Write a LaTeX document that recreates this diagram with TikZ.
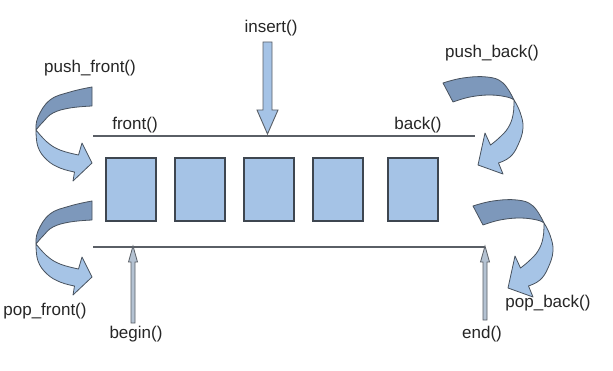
\documentclass[tikz,border=0pt]{standalone}
\usepackage{fontspec}
\setmainfont{Liberation Sans}
\definecolor{boxfill}{HTML}{A5C3E6}
\definecolor{boxline}{HTML}{3E4650}
\definecolor{linegray}{HTML}{5A5F66}
\definecolor{curldark}{HTML}{7D98BB}
\definecolor{curllight}{HTML}{A6C4E6}
\definecolor{curlline}{HTML}{48525E}
\definecolor{thinfill}{HTML}{B4C2D2}
\newcommand\frontcurl{%
  \filldraw[darkpart] plot[smooth,tension=0.7] coordinates {(92,87) (70,92) (50,100) (38,117) (36,130)}
    -- plot[smooth,tension=0.7] coordinates {(36,130) (43,122) (53,113) (70,108) (92,106)} -- cycle;
  \filldraw[lightpart] plot[smooth,tension=0.7] coordinates {(36,130) (38,147) (47,160) (60,168) (74.5,172)}
    -- (73,181) -- (92,163) -- (82,143)
    -- plot[smooth,tension=0.7] coordinates {(78.5,155) (60,150) (47,142) (36,130)} -- cycle;
}
\newcommand\backcurl{%
  \filldraw[darkpart] plot[smooth,tension=0.7] coordinates {(443,83) (463,78) (487,77) (503,83) (514,100)}
    -- plot[smooth,tension=0.7] coordinates {(514,100) (507,97) (490,95) (470,97) (453,102)} -- cycle;
  \filldraw[lightpart] plot[smooth,tension=0.7] coordinates {(514,100) (520,112) (523,128) (518,145) (510,157) (498.5,163)}
    -- (503,174) -- (478,165) -- (485,133)
    -- plot[smooth,tension=0.7] coordinates {(490.5,145) (499,138) (508,128) (513,115) (514,100)} -- cycle;
}
\begin{document}
\begin{tikzpicture}[x=1pt,y=-1pt,
  lbl/.style={font=\fontsize{17}{19}\selectfont, inner sep=0pt, text height=0.73em, text depth=0.21em, text=black!85},
  cell/.style={draw=boxline, fill=boxfill, line width=1.1pt, minimum width=50pt, minimum height=63pt, inner sep=0pt},
  rail/.style={draw=linegray, line width=1.1pt},
  darkpart/.style={fill=curldark, draw=curlline, line width=0.8pt, line join=round},
  lightpart/.style={fill=curllight, draw=curlline, line width=0.8pt, line join=round},
  fatarrow/.style={fill=boxfill, draw=linegray, line width=0.9pt, line join=miter},
  thinarrow/.style={fill=thinfill, draw=linegray, line width=0.8pt}]
\useasboundingbox (0,0) rectangle (613,371);
\fill[white] (0,0) rectangle (613,371);

% cells
\node[cell] (c1) at (131,189.5) {};
\node[cell] (c2) at (200,189.5) {};
\node[cell] (c3) at (269,189.5) {};
\node[cell] (c4) at (338,189.5) {};
\node[cell] (c5) at (413,189.5) {};

% rails
\coordinate (tl) at (93,136);
\coordinate (tr) at (475,136);
\coordinate (bl) at (93,247);
\coordinate (br) at (485,247);
\draw[rail] (tl) -- (tr);
\draw[rail] (bl) -- (br);

% labels
\node[lbl] (front) at (135,127) {front()};
\node[lbl] (back) at (418,127) {back()};
\node[lbl] (insert) at (271,30) {insert()};
\node[lbl] (pushf) at (90,70) {push\_front()};
\node[lbl] (pushb) at (492,55) {push\_back()};
\node[lbl] (popf) at (45,313) {pop\_front()};
\node[lbl] (popb) at (548,305) {pop\_back()};
\node[lbl] (begin) at (136,336) {begin()};
\node[lbl] (end) at (482,336) {end()};

% insert arrow
\draw[fatarrow] (263,42) -- (272,42) -- (272,110) -- (278,110) -- (267.5,134) -- (257,110) -- (263,110) -- cycle;

% begin / end arrows
\draw[thinarrow] (131,323) -- (131,262) -- (128.5,262) -- (133,246) -- (137.5,262) -- (135,262) -- (135,323) -- cycle;
\draw[thinarrow] (483,320) -- (483,262) -- (480.5,262) -- (485,246) -- (489.5,262) -- (487,262) -- (487,320) -- cycle;

% curved arrows
\frontcurl
\begin{scope}[shift={(0,114)}]\frontcurl\end{scope}
\backcurl
\begin{scope}[shift={(30,123)}]\backcurl\end{scope}
\end{tikzpicture}
\end{document}
